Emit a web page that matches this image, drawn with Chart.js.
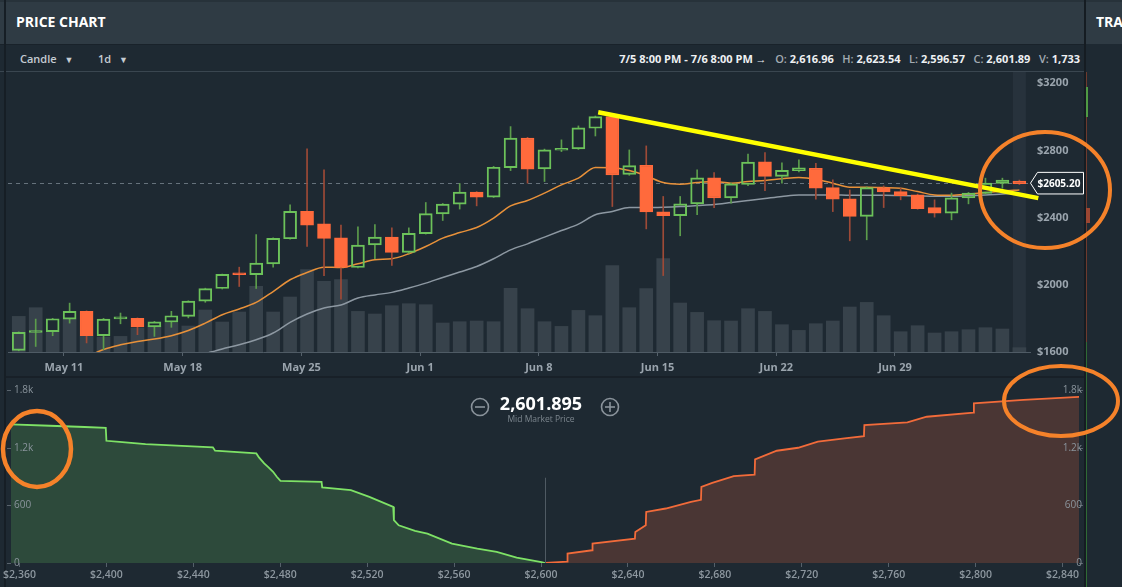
<!DOCTYPE html>
<html><head><meta charset="utf-8">
<script src="https://cdn.jsdelivr.net/npm/chart.js@4.4.0/dist/chart.umd.min.js"></script>
<style>
html,body{margin:0;padding:0;}
body{width:1122px;height:587px;overflow:hidden;background:#1e2932;position:relative;font-family:'Open Sans',sans-serif;}
.abs{position:absolute;}
#hdr{left:0;top:0;width:1122px;height:44px;background:#2f3b44;border-top:2px solid #27323a;box-sizing:border-box;}
#title{left:16px;top:13px;color:#fff;font-weight:700;font-size:14px;line-height:18px;}
#tra{left:1096px;top:13px;color:#fff;font-weight:700;font-size:14px;line-height:18px;}
#tb{left:0;top:44px;width:1086px;height:28px;border-top:1px solid #19222a;border-bottom:1px solid #3a4650;box-sizing:border-box;}
.tbt{top:51px;font-size:11px;font-weight:600;color:#c5ccd2;line-height:16px;}
#ohlc{right:42px;top:51px;font-size:11px;font-weight:700;color:#eef0f2;line-height:16px;white-space:nowrap;}
#ohlc .g{color:#a3abb2;font-weight:600;}
#sepL{left:4px;top:0;width:2px;height:587px;background:#161e25;}
#sepR{left:1084px;top:0;width:2px;height:587px;background:#151c22;}
#sepH{left:6px;top:376px;width:1078px;height:2px;background:#182028;}
#rline{left:1086px;top:72px;width:1px;height:270px;background:#6e3a2e;}
#gline{left:1086px;top:342px;width:1px;height:245px;background:#2f6a35;}
#gseg{left:1086px;top:87px;width:2px;height:30px;background:#4f9a44;}
#rseg{left:1086px;top:208px;width:4px;height:15px;background:#9c4632;}
#mid{left:441px;top:392px;width:200px;text-align:center;color:#fff;font-weight:700;font-size:18px;line-height:22px;}
#midl{left:441px;top:413px;width:200px;text-align:center;color:#7c868e;font-size:8.5px;line-height:12px;}
canvas{position:absolute;}
svg{position:absolute;left:0;top:0;}
</style></head>
<body>
<div id="hdr" class="abs"></div>
<div id="title" class="abs">PRICE CHART</div>
<div id="tra" class="abs">TRA</div>
<div id="tb" class="abs"></div>
<div class="abs tbt" style="left:20px;">Candle <span style="font-size:9px;margin-left:5px;">&#9660;</span></div>
<div class="abs tbt" style="left:98px;">1d <span style="font-size:9px;margin-left:5px;">&#9660;</span></div>
<div id="ohlc" class="abs">7/5 8:00 PM - 7/6 8:00 PM &rarr;&nbsp;&nbsp; <span class="g">O:</span> 2,616.96&nbsp;&nbsp; <span class="g">H:</span> 2,623.54&nbsp;&nbsp; <span class="g">L:</span> 2,596.57&nbsp;&nbsp; <span class="g">C:</span> 2,601.89&nbsp;&nbsp; <span class="g">V:</span> 1,733</div>
<div id="sepL" class="abs"></div>
<div id="sepR" class="abs"></div>
<div id="sepH" class="abs"></div>
<div id="rline" class="abs"></div>
<div id="gline" class="abs"></div>
<div id="gseg" class="abs"></div>
<div id="rseg" class="abs"></div>
<canvas id="price" width="1086" height="326" style="left:0;top:52px;"></canvas>
<canvas id="depth" width="1086" height="229" style="left:0;top:358px;"></canvas>
<div id="mid" class="abs">2,601.895</div>
<div id="midl" class="abs">Mid Market Price</div>
<svg width="1122" height="587">
  <circle cx="480" cy="407" r="8.5" fill="none" stroke="#8a939b" stroke-width="1.6"/>
  <line x1="475" y1="407" x2="485" y2="407" stroke="#8a939b" stroke-width="1.6"/>
  <circle cx="610" cy="407" r="8.5" fill="none" stroke="#8a939b" stroke-width="1.6"/>
  <line x1="605" y1="407" x2="615" y2="407" stroke="#8a939b" stroke-width="1.6"/>
  <line x1="610" y1="402" x2="610" y2="412" stroke="#8a939b" stroke-width="1.6"/>
  <ellipse cx="1045" cy="190" rx="65" ry="58" fill="none" stroke="#f5822a" stroke-width="4"/>
  <ellipse cx="37" cy="449" rx="34" ry="38" fill="none" stroke="#f5822a" stroke-width="4.5"/>
  <ellipse cx="1061" cy="401" rx="57" ry="35" fill="none" stroke="#f5822a" stroke-width="4"/>
</svg>
<script>
// ---------------- data ----------------
const dates = ['05-08','05-09','05-10','05-11','05-12','05-13','05-14','05-15','05-16','05-17',
 '05-18','05-19','05-20','05-21','05-22','05-23','05-24','05-25','05-26','05-27',
 '05-28','05-29','05-30','05-31','06-01','06-02','06-03','06-04','06-05','06-06',
 '06-07','06-08','06-09','06-10','06-11','06-12','06-13','06-14','06-15','06-16',
 '06-17','06-18','06-19','06-20','06-21','06-22','06-23','06-24','06-25','06-26',
 '06-27','06-28','06-29','06-30','07-01','07-02','07-03','07-04','07-05','07-06'];
const open  = [1610,1716,1721,1796,1842,1697,1797,1800,1749,1778,1812,1903,1978,2064,2060,2125,2274,2437,2363,2280,
 2103,2238,2284,2193,2304,2422,2480,2552,2522,2698,2873,2690,2801,2809,2932,3001,2657,2712,2434,2412,
 2482,2637,2518,2597,2732,2645,2680,2694,2579,2512,2407,2579,2555,2535,2460,2427,2518,2544,2603,2616.96];
const high  = [1720,1796,1800,1891,1845,1800,1832,1803,1782,1842,1905,1980,2064,2105,2299,2280,2476,2809,2684,2355,
 2345,2359,2339,2339,2490,2484,2603,2555,2705,2942,2878,2808,2863,2946,3005,3010,2803,2827,2526,2526,
 2684,2668,2605,2779,2787,2726,2744,2724,2625,2565,2583,2589,2575,2540,2506,2546,2550,2635,2635,2623.54];
const low   = [1607,1633,1697,1772,1654,1614,1768,1703,1693,1747,1803,1896,1975,1990,1978,2105,2272,2228,2054,1915,
 2100,2155,2115,2187,2302,2383,2451,2470,2520,2680,2605,2615,2793,2806,2886,2466,2652,2333,2055,2292,
 2418,2460,2486,2590,2561,2605,2672,2510,2436,2262,2268,2460,2506,2450,2403,2387,2482,2540,2575,2596.57];
const close = [1717,1721,1798,1842,1697,1796,1802,1749,1780,1816,1903,1978,2062,2060,2129,2276,2437,2355,2276,2103,
 2236,2284,2193,2306,2424,2480,2552,2522,2700,2873,2688,2803,2813,2934,3001,2655,2710,2434,2412,2482,
 2637,2518,2601,2730,2645,2682,2696,2575,2510,2407,2579,2553,2530,2454,2427,2518,2546,2605,2623,2601.89];
const volume = [14240,17720,8000,13200,6400,6000,6240,9600,10400,11600,10400,16800,12000,16000,26240,16000,22000,32920,28240,28920,
 16240,15200,18520,19320,18920,11600,12120,12400,12120,25440,17320,12120,10240,16640,14520,34520,17720,25320,37320,19600,
 15840,12520,12400,17320,16240,10920,8640,11320,12400,18000,19840,14520,8120,10520,7600,8120,8920,9720,9200,1733];
const maFast = [null,null,null,null,1570,1615,1643,1663,1677,1697,1728,1772,1822,1856,1895,1960,2030,2073,2105,2103,
 2125,2149,2155,2185,2228,2278,2311,2341,2397,2470,2502,2546,2595,2635,2698,2697,2680,2649,2609,2599,
 2609,2615,2605,2615,2621,2631,2639,2629,2605,2581,2581,2579,2575,2555,2535,2533,2540,2549,2559,2565];
const maSlow = [null,null,null,null,null,null,null,null,null,null,null,1590,1618,1643,1673,1713,1776,1826,1862,1880,
 1921,1940,1955,1981,2010,2044,2076,2109,2155,2208,2244,2284,2323,2361,2417,2436,2460,2460,2462,2466,
 2472,2478,2490,2502,2514,2526,2535,2535,2535,2533,2533,2533,2531,2529,2527,2527,2531,2535,2541,2546];
const xTickDates  = ['05-11','05-18','05-25','06-01','06-08','06-15','06-22','06-29'];
const xTickLabels = ['May 11','May 18','May 25','Jun 1','Jun 8','Jun 15','Jun 22','Jun 29'];
const priceTicks = [1600,2000,2400,2800,3200];
const lastPrice = 2605.20;
const trendDays  = [31.5, 57.45];   // days after May 11 00:00
const trendPrice = [3027, 2516];

const bidPrice = [2354,2374,2390,2399.7,2400,2406,2418,2449,2450,2469,2470.2,2472.6,2474.6,2476.7,2478.4,2480.1,2499,2499.3,2512.5,2521,2532,2532.3,2534.5,2542,2547.7,2559,2570.7,2579.6,2588.8,2600.2,2601.9];
const bidSize  = [1448,1433,1420,1412,1276,1265,1242,1207,1172,1144,1102,1040,998,952,900,858,848,789,760,690,586,447,394,335,307,203,150,115,56,10,0];
const askPrice = [2601.9,2608,2612,2612.2,2623.5,2623.7,2643.2,2643.4,2648.2,2648.4,2657.4,2669,2673.6,2673.8,2678.8,2688.7,2698.3,2698.5,2708.5,2718.3,2727.4,2739.7,2748.6,2748.8,2768.6,2777.5,2799,2799.2,2822,2848.3];
const askSize  = [0,10,15,98,133,203,255,324,394,533,569,639,660,795,837,907,923,1082,1172,1203,1266,1301,1325,1440,1469,1527,1569,1667,1702,1736];
const depthTicks = [2360,2400,2440,2480,2520,2560,2600,2640,2680,2720,2760,2800,2840];
const depthYTicks = [0,600,1200,1800];
const depthYLabels = ['0','600','1.2k','1.8k'];
const midPrice = 2601.895;

// ---------------- helpers ----------------
const BASE = Date.UTC(2017,4,11);
function dayOf(md){const [m,d]=md.split('-').map(Number);return (Date.UTC(2017,m-1,d)-BASE)/864e5;}
const candleX = dates.map(d => dayOf(d) + 8/24);
const isUp = close.map((c,i) => c >= open[i]);
const GREEN='#6cc25a', RED='#ff6a3c', GWICK='#5c9c4c', RWICK='#9e4a37';
const FONT='Open Sans';

const pricePlugin = {
  id:'pricePlugin',
  beforeDatasetsDraw(chart){
    const {ctx, chartArea:a, scales} = chart;
    const xs = scales.x, ys = scales.y;
    const lx = xs.getPixelForValue(candleX[candleX.length-1]);
    ctx.save();
    ctx.fillStyle='#27323c';
    ctx.fillRect(lx-6.5, a.top, 13, a.bottom-a.top);
    const py = Math.round(ys.getPixelForValue(lastPrice))+0.5;
    ctx.strokeStyle='#66727c'; ctx.lineWidth=1; ctx.setLineDash([4,4]);
    ctx.beginPath(); ctx.moveTo(a.left,py); ctx.lineTo(a.right,py); ctx.stroke();
    ctx.restore();
  },
  afterDraw(chart){
    const {ctx, chartArea:a, scales} = chart;
    const py = scales.y.getPixelForValue(lastPrice);
    const x0 = a.right;
    ctx.save();
    ctx.beginPath();
    ctx.moveTo(x0+0.5, py);
    ctx.lineTo(x0+7.5, py-10.8);
    ctx.lineTo(x0+53.5, py-10.8);
    ctx.lineTo(x0+53.5, py+10.8);
    ctx.lineTo(x0+7.5, py+10.8);
    ctx.closePath();
    ctx.fillStyle='#1e2932'; ctx.fill();
    ctx.strokeStyle='#ffffff'; ctx.lineWidth=1; ctx.stroke();
    ctx.fillStyle='#ffffff'; ctx.font='bold 10px "'+FONT+'"';
    ctx.textBaseline='middle'; ctx.textAlign='left';
    ctx.fillText('$'+lastPrice.toFixed(2), x0+7.5, py+0.5);
    ctx.restore();
  }
};

new Chart(document.getElementById('price'), {
  type:'bar',
  data:{datasets:[
    {type:'line', data: trendDays.map((d,i)=>({x:d,y:trendPrice[i]})), borderColor:'#ffff00', borderWidth:4.5,
     pointRadius:0, clip:false, order:0, yAxisID:'y'},
    {data: candleX.map((x,i)=>({x, y:[open[i], close[i]]})),
     backgroundColor: c => isUp[c.dataIndex] ? 'rgba(0,0,0,0)' : RED,
     borderColor: c => isUp[c.dataIndex] ? GREEN : RED,
     borderWidth:1.3, borderSkipped:false, barThickness:13, grouped:false, minBarLength:2, order:1, yAxisID:'y'},
    {data: candleX.map((x,i)=>({x, y:[Math.max(open[i],close[i]), high[i]]})),
     backgroundColor: c => isUp[c.dataIndex] ? GWICK : RWICK, borderWidth:0,
     barThickness:1, grouped:false, order:2, yAxisID:'y'},
    {data: candleX.map((x,i)=>({x, y:[low[i], Math.min(open[i],close[i])]})),
     backgroundColor: c => isUp[c.dataIndex] ? GWICK : RWICK, borderWidth:0,
     barThickness:1, grouped:false, order:2, yAxisID:'y'},
    {type:'line', data: candleX.map((x,i)=>({x,y:maFast[i]})), borderColor:'#e8913a', borderWidth:1.5,
     pointRadius:0, cubicInterpolationMode:'monotone', order:3, yAxisID:'y'},
    {type:'line', data: candleX.map((x,i)=>({x,y:maSlow[i]})), borderColor:'#8d98a2', borderWidth:1.5,
     pointRadius:0, cubicInterpolationMode:'monotone', order:3, yAxisID:'y'},
    {data: candleX.map((x,i)=>({x,y:volume[i]})), backgroundColor:'#37424b', borderWidth:0,
     barThickness:13, grouped:false, order:5, yAxisID:'yv'}
  ]},
  options:{
    responsive:false, animation:false, events:[], devicePixelRatio:1,
    layout:{padding:{left:8,right:0,top:20,bottom:0}},
    plugins:{legend:{display:false}, tooltip:{enabled:false}},
    scales:{
      x:{type:'linear', min:-3.30, max:56.96, offset:false,
        afterBuildTicks: ax => { ax.ticks = xTickDates.map(d=>({value:dayOf(d)})); },
        ticks:{callback:(v,i)=>xTickLabels[i], color:'#9aa4ad', font:{family:FONT,size:11,weight:'bold'},
          padding:5, maxRotation:0, autoSkip:false},
        grid:{display:true, drawOnChartArea:false, drawTicks:true, tickLength:4, color:'#55616b', offset:false},
        border:{display:true, color:'#4f5b65'},
        afterFit: ax => { ax.height = 26; }
      },
      y:{type:'linear', position:'right', min:1600, max:3267,
        afterBuildTicks: ax => { ax.ticks = priceTicks.map(v=>({value:v})); },
        ticks:{callback:v=>'$'+v, color:'#9aa4ad', font:{family:FONT,size:11,weight:'bold'}, padding:7},
        grid:{display:false, drawTicks:false}, border:{display:false},
        afterFit: ax => { ax.width = 56; }
      },
      yv:{type:'linear', display:false, min:0, max:112000}
    }
  },
  plugins:[pricePlugin]
});

const depthPlugin = {
  id:'depthPlugin',
  afterDatasetsDraw(chart){
    const {ctx, chartArea:a, scales} = chart;
    const x = Math.round(scales.x.getPixelForValue(midPrice))+0.5;
    ctx.save();
    ctx.strokeStyle='#4f5a63'; ctx.lineWidth=1;
    ctx.beginPath(); ctx.moveTo(x, scales.yl.getPixelForValue(890)); ctx.lineTo(x, a.bottom); ctx.stroke();
    ctx.restore();
  }
};

const yCommon = {
  type:'linear', min:0, max:1900,
  afterBuildTicks: ax => { ax.ticks = depthYTicks.map(v=>({value:v})); },
  grid:{display:true, drawOnChartArea:false, drawTicks:true, tickLength:4, color:'#5a646d', z:1},
  border:{display:false},
  afterFit: ax => { ax.width = 4; }
};

new Chart(document.getElementById('depth'), {
  type:'line',
  data:{datasets:[
    {data: bidPrice.map((p,i)=>({x:p,y:bidSize[i]})), borderColor:'#7ee266', borderWidth:1.8,
     backgroundColor:'#2d4a3b', fill:'origin', pointRadius:0, tension:0, yAxisID:'yl'},
    {data: askPrice.map((p,i)=>({x:p,y:askSize[i]})), borderColor:'#f26b3a', borderWidth:1.8,
     backgroundColor:'#4a3634', fill:'origin', pointRadius:0, tension:0, yAxisID:'yl'}
  ]},
  options:{
    responsive:false, animation:false, events:[], devicePixelRatio:1,
    layout:{padding:{left:7,right:3,top:23,bottom:0}},
    plugins:{legend:{display:false}, tooltip:{enabled:false}},
    scales:{
      x:{type:'linear', min:2356.09, max:2847.57,
        afterBuildTicks: ax => { ax.ticks = depthTicks.map(v=>({value:v})); },
        ticks:{callback:v=>'$'+v.toLocaleString('en-US'), color:'#8d979f', font:{family:FONT,size:10.5,weight:'600'},
          padding:2, maxRotation:0, autoSkip:false},
        grid:{display:true, drawOnChartArea:false, drawTicks:true, tickLength:4, color:'#55606a'},
        border:{display:false},
        afterFit: ax => { ax.height = 24; }
      },
      yl: Object.assign({}, yCommon, {position:'left',
        ticks:{callback:(v,i)=>depthYLabels[i], mirror:true, padding:3, z:2, color:'#8a949c', font:{family:FONT,size:10}}}),
      yr: Object.assign({}, yCommon, {position:'right',
        ticks:{callback:(v,i)=>depthYLabels[i], mirror:true, padding:3, z:2, color:'#8a949c', font:{family:FONT,size:10}}})
    }
  },
  plugins:[depthPlugin]
});
</script>
</body></html>
